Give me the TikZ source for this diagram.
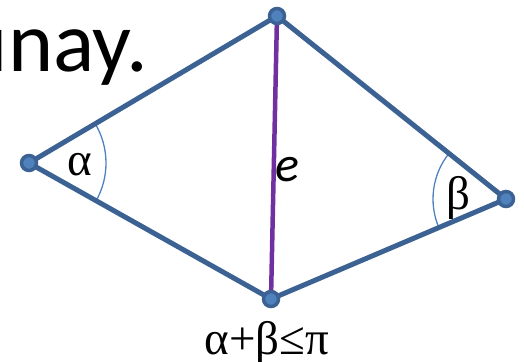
\documentclass[tikz,border=0pt]{standalone}
\usepackage{fontspec}
\setmainfont{Liberation Serif}
\newfontfamily\calib{Carlito}
\definecolor{edgeblue}{RGB}{60,98,148}
\definecolor{vfill}{RGB}{79,129,189}
\definecolor{arcblue}{RGB}{79,129,189}
\definecolor{purp}{RGB}{112,48,160}
\tikzset{
  vtx/.style={circle,draw=edgeblue,fill=vfill,line width=3.5pt,minimum size=15pt,inner sep=0pt},
  edg/.style={draw=edgeblue,line width=5pt},
  diag/.style={draw=purp,line width=4.5pt},
  angarc/.style={draw=arcblue,line width=1.3pt},
}
\begin{document}
\begin{tikzpicture}[x=1pt,y=1pt]
\useasboundingbox (0,0) rectangle (524,361);
\clip (0,0) rectangle (524,361);
\node[anchor=base east,inner sep=0pt,font=\calib\fontsize{86}{90}\selectfont] (title) at (148,289) {unay.};
\coordinate (L) at (29,198);
\coordinate (T) at (277,345);
\coordinate (R) at (506,162);
\coordinate (B) at (271,62);
% angle arcs
\draw[angarc] (L) ++(30.7:77) arc[start angle=30.7,end angle=-29.3,radius=77];
\draw[angarc] (R) ++(141.4:73) arc[start angle=141.4,end angle=203,radius=73];
% edges
\draw[edg] (L) -- (T) -- (R) -- (B) -- cycle;
\draw[diag] (T) -- (B);
\node[vtx] (vL) at (L) {};
\node[vtx] (vT) at (T) {};
\node[vtx] (vR) at (R) {};
\node[vtx] (vB) at (B) {};
\node[font=\fontsize{47}{50}\selectfont,inner sep=0pt] (alpha) at (80,196) {α};
\node[font=\fontsize{47}{50}\selectfont,inner sep=0pt] (beta) at (458,163) {β};
\node[font=\calib\itshape\fontsize{50}{54}\selectfont,inner sep=0pt] (e) at (287,191) {e};
\node[anchor=base,font=\fontsize{47}{50}\selectfont,inner sep=0pt] (cond) at (267,6) {α+β≤π};
\end{tikzpicture}
\end{document}
